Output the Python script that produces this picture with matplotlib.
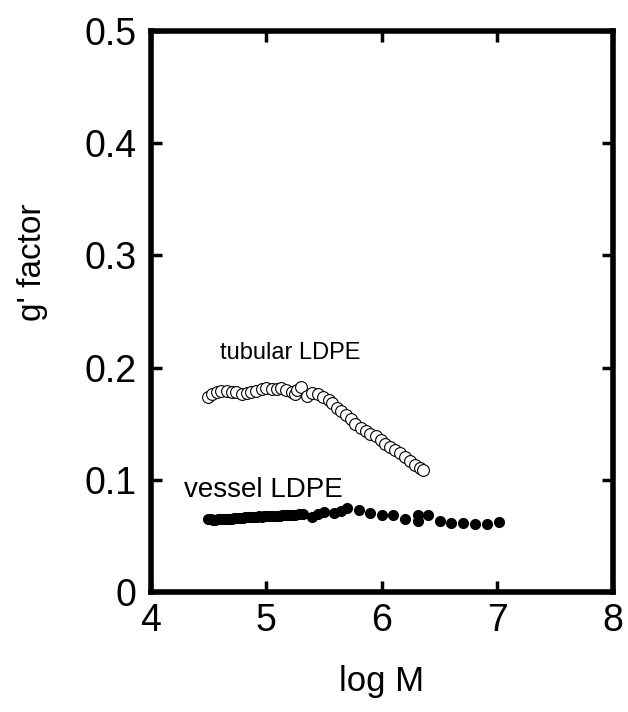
import matplotlib
matplotlib.use("Agg")
import matplotlib.pyplot as plt

plt.rcParams['font.family'] = ['Liberation Sans', 'DejaVu Sans']

# tubular LDPE (open circles)
tub_x = [4.50, 4.53, 4.57, 4.61, 4.66, 4.70, 4.74, 4.79, 4.83, 4.87, 4.91, 4.96,
         5.00, 5.05, 5.09, 5.13, 5.17, 5.22, 5.25, 5.27, 5.30, 5.35, 5.40, 5.45,
         5.49, 5.54, 5.57, 5.61, 5.65, 5.69, 5.73, 5.77, 5.82, 5.86, 5.90, 5.95,
         5.99, 6.03, 6.07, 6.11, 6.16, 6.20, 6.24, 6.29, 6.33, 6.36]
tub_y = [0.174, 0.176, 0.1785, 0.179, 0.179, 0.1785, 0.1785, 0.1765, 0.177, 0.178, 0.179, 0.1805,
         0.1815, 0.181, 0.181, 0.1815, 0.180, 0.1785, 0.1765, 0.180, 0.183, 0.1745, 0.1775, 0.1765,
         0.174, 0.171, 0.168, 0.164, 0.161, 0.158, 0.154, 0.1495, 0.146, 0.143, 0.1405, 0.1385,
         0.1355, 0.132, 0.129, 0.1265, 0.1235, 0.120, 0.117, 0.113, 0.110, 0.109]

# vessel LDPE (filled circles)
ves_x = [4.50, 4.52, 4.54, 4.56, 4.58, 4.60, 4.62, 4.64, 4.66, 4.68, 4.70, 4.72,
         4.74, 4.76, 4.78, 4.80, 4.82, 4.84, 4.86, 4.88, 4.90, 4.92, 4.94, 4.96,
         4.98, 5.00, 5.02, 5.04, 5.06, 5.08, 5.10, 5.12, 5.14, 5.16, 5.18, 5.20,
         5.22, 5.25, 5.28, 5.32, 5.40, 5.45, 5.50, 5.59, 5.65, 5.70, 5.80, 5.90,
         6.00, 6.10, 6.20, 6.31, 6.31, 6.40, 6.50, 6.60, 6.70, 6.81, 6.91, 7.01]
ves_y = [0.0648, 0.0645, 0.0643, 0.0642, 0.0645, 0.0646, 0.0648, 0.0650, 0.0652, 0.0650, 0.0652, 0.0655,
         0.0657, 0.0656, 0.0658, 0.0660, 0.0663, 0.0662, 0.0665, 0.0667, 0.0668, 0.0670, 0.0672, 0.0670,
         0.0672, 0.0673, 0.0672, 0.0675, 0.0677, 0.0676, 0.0675, 0.0678, 0.0680, 0.0682, 0.0680, 0.0683,
         0.0685, 0.0688, 0.0690, 0.0695, 0.0670, 0.0695, 0.0707, 0.0700, 0.0720, 0.0745, 0.0725, 0.0700,
         0.0686, 0.0680, 0.0650, 0.0686, 0.0627, 0.0686, 0.0627, 0.0610, 0.0610, 0.0606, 0.0606, 0.0620]

x_ticks = [4, 5, 6, 7, 8]
y_ticks = [0, 0.1, 0.2, 0.3, 0.4, 0.5]
y_tick_labels = ['0', '0.1', '0.2', '0.3', '0.4', '0.5']

fig = plt.figure(figsize=(6.28, 7.12), dpi=100)
ax = fig.add_axes([0.240, 0.169, 0.736, 0.787])

ax.plot(tub_x, tub_y, 'o', mfc='white', mec='black', mew=0.8, ms=8.5, ls='none')
ax.plot(ves_x, ves_y, 'o', color='black', ms=7, ls='none')

ax.text(4.60, 0.213, 'tubular LDPE', fontsize=17, va='center', ha='left')
ax.text(4.29, 0.091, 'vessel LDPE', fontsize=20, va='center', ha='left')

ax.set_xlim(4, 8)
ax.set_ylim(0, 0.5)
ax.set_xticks(x_ticks)
ax.set_yticks(y_ticks)
ax.set_yticklabels(y_tick_labels)
ax.tick_params(direction='in', length=8, width=2.5, labelsize=27,
               top=True, right=True)
ax.tick_params(axis='x', pad=8)
ax.tick_params(axis='y', pad=10)
for s in ax.spines.values():
    s.set_linewidth(4)

ax.set_xlabel('log M', fontsize=25)
ax.xaxis.set_label_coords(0.5, -0.13)
ax.set_ylabel("g' factor", fontsize=24)
ax.yaxis.set_label_coords(-0.223, 0.588)

fig.savefig('out.png', dpi=100)
